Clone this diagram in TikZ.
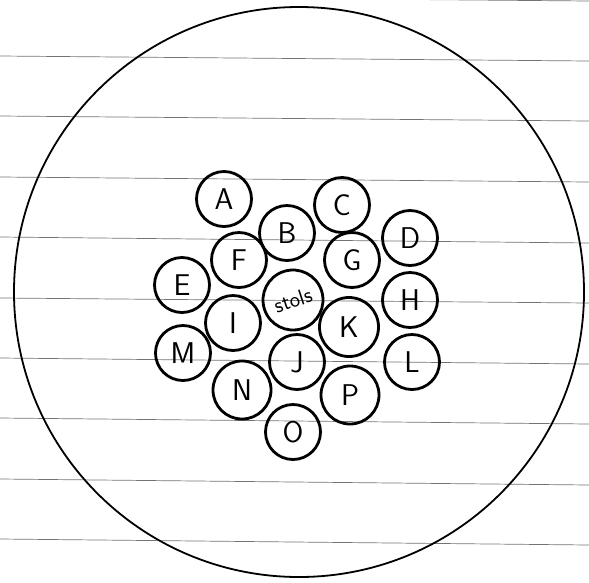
\documentclass[tikz,border=0pt]{standalone}
\usepackage{tikz}
\usetikzlibrary{positioning}

\begin{document}
\begin{tikzpicture}[
  x=1pt,y=-1pt,
  every node/.style={font=\fontsize{30}{34}\selectfont\sffamily},
  seat/.style={draw,circle,line width=2.8pt,minimum size=55pt,inner sep=0pt},
  ruling/.style={draw=black!55,line width=0.7pt},
]
  \useasboundingbox (0,0) rectangle (589,582);

  % Paper lines
  \draw[ruling] (0,-4) -- (589,1);
  \draw[ruling] (0,56) -- (589,61);
  \draw[ruling] (0,116) -- (589,121);
  \draw[ruling] (0,177) -- (589,182);
  \draw[ruling] (0,237) -- (589,243);
  \draw[ruling] (0,298) -- (589,303);
  \draw[ruling] (0,358) -- (589,364);
  \draw[ruling] (0,418) -- (589,424);
  \draw[ruling] (0,479) -- (589,485);
  \draw[ruling] (0,539) -- (589,545);

  % Room
  \node[draw,circle,line width=1.8pt,minimum size=570pt,inner sep=0pt] (room) at (299,292) {};

  % Table
  \node[seat,minimum size=60pt,rotate=18,font=\fontsize{22}{26}\selectfont\sffamily]
    (stols) at (293,300) {stols};

  % Seats
  \node[seat] (a) at (224,199) {A};
  \node[seat] (b) at (287,233) {B};
  \node[seat] (c) at (342,205) {C};
  \node[seat] (d) at (410,238) {D};
  \node[seat] (e) at (182,285) {E};
  \node[seat] (f) at (239,260) {F};
  \node[seat] (g) at (352,260) {G};
  \node[seat] (h) at (410,300) {H};
  \node[seat] (i) at (233,323) {I};
  \node[seat] (j) at (297,362) {J};
  \node[seat,minimum size=59pt] (k) at (349,327) {K};
  \node[seat] (l) at (412,362) {L};
  \node[seat] (m) at (183,353) {M};
  \node[seat,minimum size=58pt] (n) at (242,390) {N};
  \node[seat] (o) at (293,432) {O};
  \node[seat,minimum size=58pt] (p) at (350,395) {P};
\end{tikzpicture}
\end{document}
